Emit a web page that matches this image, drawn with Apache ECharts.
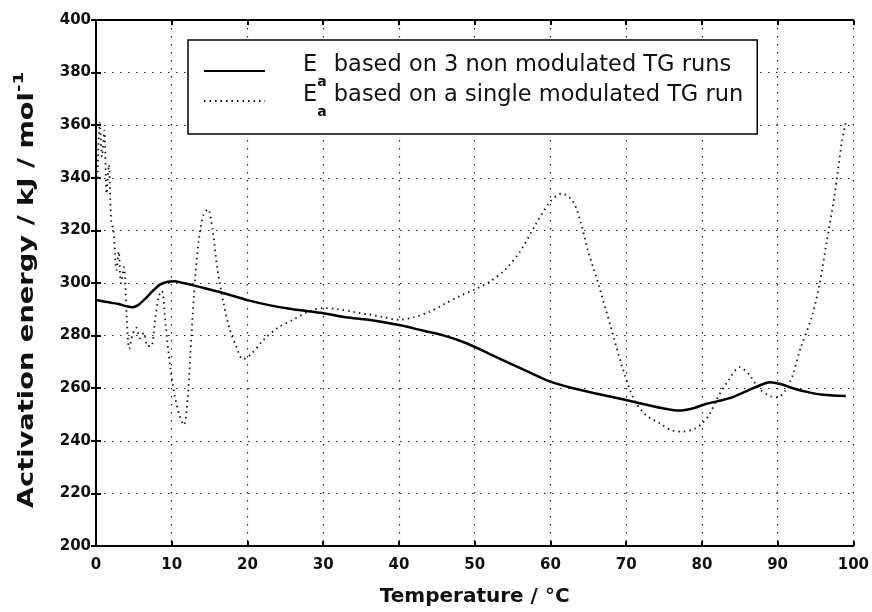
<!DOCTYPE html>
<html><head><meta charset="utf-8">
<script src="https://cdn.jsdelivr.net/npm/echarts@6.0.0/dist/echarts.min.js"></script>
<style>html,body{margin:0;padding:0;background:#fff}#c{width:872px;height:612px}</style>
</head><body><div id="c"></div><script>
// Solid series: Ea based on 3 non modulated TG runs
const tempSolid = [0,1,2,3,4,4.8,5.5,6.5,7.5,8.5,9.5,10.3,11.5,13,15,17,20,23,26,30,33,36,40,43,46,49,52,55,58,60,63,66,70,73,75,77,79,80.5,82,84,86,88,89,90.5,92,94,96,99];
const energySolid = [293.5,293,292.5,292,291.2,290.8,291.5,294,297,299.5,300.5,300.7,300,299,297.5,296,293.5,291.5,290,288.5,287,286,284,282,280,277,273,269,265,262.5,260,258,255.5,253.5,252.3,251.5,252.5,254,255,256.5,259,261.5,262.3,261.5,260,258.5,257.5,257];
// Dotted series: Ea based on a single modulated TG run
const tempDotted = [0.2,0.5,0.8,1.1,1.4,1.7,2.0,2.3,2.7,3.0,3.3,3.7,4.0,4.4,4.8,5.3,5.8,6.3,6.8,7.3,7.8,8.3,8.7,9.2,9.8,10.4,11.0,11.6,12.1,12.6,13.1,13.6,14.2,14.8,15.4,16.0,16.8,17.6,18.5,19.4,20.5,22,24,26,28,30,32,34,36,38,40,42,44,46,48,50,52,54,56,58,60,61.5,63,64,65,66.5,68,69.5,71,72.5,74.5,76,77.5,79,80,81,82,83.5,85,86.3,87.5,89,90,91,92,93,94.5,95.5,96.5,97.5,98.5,99];
const energyDotted = [340,361,348,358,334,345,324,320,305,312,300,306,290,275,280,283,279,281,276,276,286,295,297,284,268,257,250,246,256,280,302,317,326,328,320,306,293,283,276,271,273,278,283,286,289,290.5,290,289,288,287,286,287,289,292,295,297.5,300.5,305,312,322,331,334,331,323,312,298,283,268,256,250,246.5,244,243.5,244.5,246.5,250,256,263,268,265,260,257,256.5,259,265,275,287,299,316,333,354,361];
const seriesNames = ['based on 3 non modulated TG runs', 'based on a single modulated TG run'];
const xTitle = 'Temperature / °C';
const yTitle = 'Activation energy / kJ / mol';
const yTitleSup = '-1';

const chart = echarts.init(document.getElementById('c'), null, {renderer: 'canvas'});
const labelStyle = {fontFamily: 'DejaVu Sans', fontWeight: 'bold', fontSize: 15, color: '#111'};
const tick = {show: true, inside: true, length: 5, lineStyle: {color: '#000', width: 2}};
const axLine = {show: true, lineStyle: {color: '#000', width: 2}};
const grid = {show: true, lineStyle: {color: '#222', width: 1.2, type: [1.5, 6.5]}};
const FS = 22.5;
chart.setOption({
  animation: false,
  backgroundColor: '#fff',
  grid: {left: 96, right: 18, top: 20, bottom: 64},
  xAxis: [
    {type: 'value', min: 0, max: 100, interval: 10, position: 'bottom',
     axisLine: axLine, axisTick: tick, splitLine: grid,
     axisLabel: Object.assign({margin: 12}, labelStyle),
     name: xTitle, nameLocation: 'middle', nameGap: 41,
     nameTextStyle: {fontFamily: 'DejaVu Sans', fontWeight: 'bold', fontSize: 20, color: '#111'}},
    {type: 'value', min: 0, max: 100, interval: 10, position: 'top',
     axisLine: axLine, axisTick: tick, splitLine: {show: false}, axisLabel: {show: false}}
  ],
  yAxis: [
    {type: 'value', min: 200, max: 400, interval: 20, position: 'left',
     axisLine: axLine, axisTick: tick, splitLine: grid,
     axisLabel: Object.assign({margin: 5}, labelStyle)},
    {type: 'value', min: 200, max: 400, interval: 20, position: 'right',
     axisLine: axLine, axisTick: tick, splitLine: {show: false}, axisLabel: {show: false}}
  ],
  legend: {
    orient: 'vertical', left: 188, top: 40, padding: [13, 14, 15, 15], itemGap: -6,
    itemWidth: 61, itemHeight: 14, selectedMode: false,
    backgroundColor: '#fff', borderColor: '#000', borderWidth: 1.5,
    itemStyle: {opacity: 0},
    data: seriesNames,
    formatter: function (name) { return '{e|E}{s|a}{t| ' + name + '}'; },
    textStyle: {
      fontFamily: 'DejaVu Sans', fontSize: FS, color: '#111', lineHeight: 26,
      rich: {
        e: {fontFamily: 'DejaVu Sans', fontSize: FS, lineHeight: 26, padding: [0, 0, 11, 33], color: '#111'},
        s: {fontFamily: 'DejaVu Sans', fontSize: 14, fontWeight: 'bold', lineHeight: 26, padding: [22, 0, 0, 0], color: '#111'},
        t: {fontFamily: 'DejaVu Sans', fontSize: FS, lineHeight: 26, padding: [0, 0, 11, 0], color: '#111'}
      }
    }
  },
  graphic: [{
    type: 'text', x: 28, y: 290, rotation: Math.PI / 2, scaleX: 1.3, silent: true,
    style: {
      text: '{m|' + yTitle + '}{p|' + yTitleSup + '}',
      align: 'center', verticalAlign: 'middle', fill: '#111',
      fontFamily: 'DejaVu Sans', fontWeight: 'bold', fontSize: 21,
      rich: {
        m: {fontFamily: 'DejaVu Sans', fontWeight: 'bold', fontSize: 21, lineHeight: 22, fill: '#111'},
        p: {fontFamily: 'DejaVu Sans', fontWeight: 'bold', fontSize: 14, lineHeight: 14, padding: [0, 0, 18, 0], fill: '#111'}
      }
    }
  }],
  series: [
    {name: seriesNames[0], type: 'line', xAxisIndex: 0, yAxisIndex: 0, symbol: 'none', smooth: 0.3,
     lineStyle: {color: '#000', width: 2.5}, itemStyle: {color: '#000'},
     data: tempSolid.map((t, i) => [t, energySolid[i]])},
    {name: seriesNames[1], type: 'line', xAxisIndex: 0, yAxisIndex: 0, symbol: 'none', smooth: 0.3,
     lineStyle: {color: '#111', width: 1.8, type: [1.5, 4]}, itemStyle: {color: '#111'},
     data: tempDotted.map((t, i) => [t, energyDotted[i]])}
  ]
});
</script></body></html>
